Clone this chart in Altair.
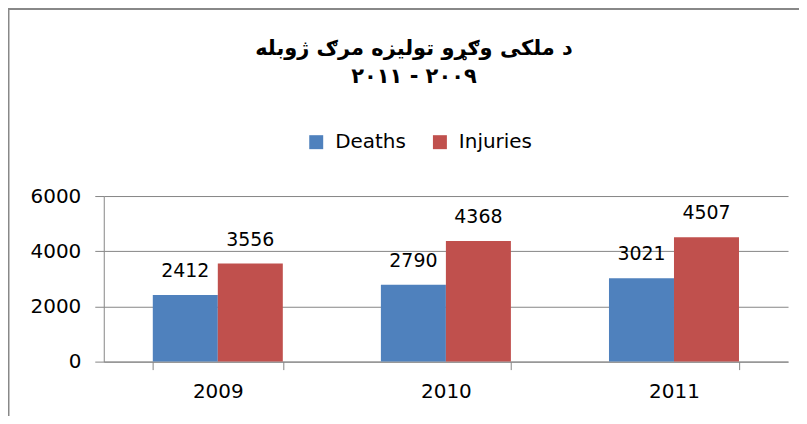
import altair as alt
import pandas as pd

years = ["2009", "2010", "2011"]
series = ["Deaths", "Injuries"]
deaths = [2412, 2790, 3021]
injuries = [3556, 4368, 4507]
title_lines = ["د ملکی وګړو تولیزه مرګ ژوبله", "۲۰۱۱ - ۲۰۰۹"]
colors = ["#4F81BD", "#C0504D"]

rows = []
for i, y in enumerate(years):
    rows.append({"year": y, "series": "Deaths", "value": deaths[i]})
    rows.append({"year": y, "series": "Injuries", "value": injuries[i]})
df = pd.DataFrame(rows)

FONT = "DejaVu Sans"
GRAY = "#868686"

base = alt.Chart(df).encode(
    x=alt.X("year:N", sort=years, title=None,
            scale=alt.Scale(paddingInner=0.43, paddingOuter=0.215),
            axis=alt.Axis(labelAngle=0, labelFont=FONT, labelFontSize=20, labelColor="#000000",
                          labelPadding=12, tickBand="extent", tickSize=8, tickColor=GRAY,
                          domainColor=GRAY, grid=False)),
    xOffset=alt.XOffset("series:N", sort=series),
)

bars = base.mark_bar().encode(
    y=alt.Y("value:Q", title=None,
            scale=alt.Scale(domain=[0, 6000]),
            axis=alt.Axis(values=[0, 2000, 4000, 6000], format="d", labelFont=FONT, labelFontSize=20,
                          labelColor="#000000", gridColor=GRAY, domainColor=GRAY,
                          tickColor=GRAY, tickSize=9, labelPadding=14)),
    color=alt.Color("series:N", sort=series,
                    scale=alt.Scale(domain=series, range=colors),
                    legend=alt.Legend(title=None, orient="none", direction="horizontal",
                                      legendX=203, legendY=-64, symbolType="square",
                                      symbolSize=196, symbolStrokeWidth=0,
                                      labelFont=FONT, labelFontSize=20, labelColor="#000000",
                                      labelOffset=9, columnPadding=24, padding=0)),
)

labels = base.mark_text(font=FONT, fontSize=19, color="#000000", baseline="bottom", dy=-14).encode(
    y=alt.Y("value:Q"),
    text=alt.Text("value:Q", format="d"),
)

frame_df = pd.DataFrame({"k": [0]})
frame_top = alt.Chart(frame_df).mark_rule(color="#888888", strokeWidth=2, clip=False).encode(
    x=alt.value(-96), x2=alt.value(720), y=alt.value(-187.5))
frame_left = alt.Chart(frame_df).mark_rule(color="#888888", strokeWidth=2, clip=False).encode(
    x=alt.value(-95.5), y=alt.value(-188), y2=alt.value(240))

chart = (frame_top + frame_left + bars + labels).properties(
    width=686, height=166,
    title=alt.TitleParams(text=title_lines, font="DejaVu Sans", fontSize=21, fontWeight="bold",
                          color="#000000", anchor="middle", dx=-32, offset=-80, lineHeight=28),
    padding={"left": 96, "top": 188, "right": 11, "bottom": 54},
    autosize=alt.AutoSizeParams(type="none"),
).configure_view(stroke=None)

chart.save("out.html", embed_options={"renderer": "svg", "actions": False})
